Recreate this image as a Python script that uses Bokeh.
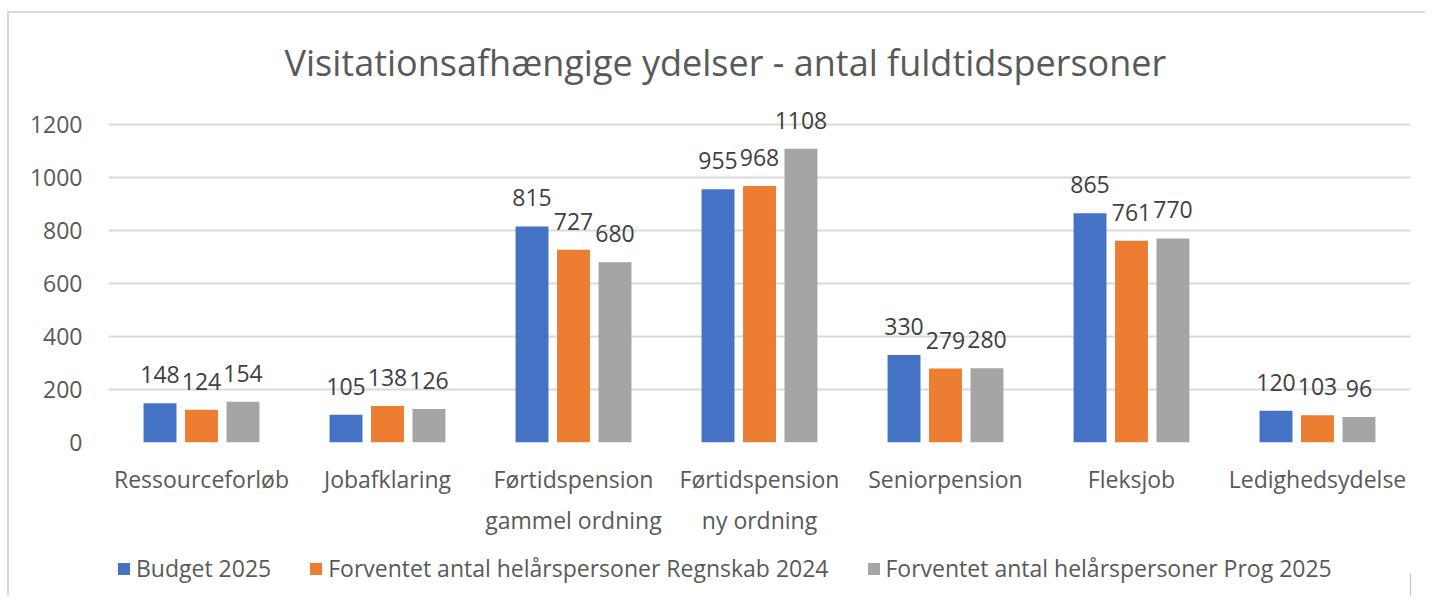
from bokeh.plotting import figure
from bokeh.layouts import column
from bokeh.models import (FactorRange, Range1d, SingleIntervalTicker, Legend, LegendItem,
                          ColumnDataSource, LabelSet)
from bokeh.core.properties import value
from bokeh.transform import dodge
from bokeh.embed import file_html
from bokeh.resources import INLINE

categories = ["Ressourceforløb", "Jobafklaring", "Førtidspension\ngammel ordning",
              "Førtidspension\nny ordning", "Seniorpension", "Fleksjob", "Ledighedsydelse"]
series_names = ["Budget 2025",
                "Forventet antal helårspersoner Regnskab 2024",
                "Forventet antal helårspersoner Prog 2025"]
budget_2025 = [148, 105, 815, 955, 330, 865, 120]
regnskab_2024 = [124, 138, 727, 968, 279, 761, 103]
prog_2025 = [154, 126, 680, 1108, 280, 770, 96]
y_ticks_interval = 200
y_max = 1260
colors = ["#4472C4", "#ED7D31", "#A5A5A5"]

FONT = "Open Sans"
TXT = "#595959"

src = ColumnDataSource(dict(cat=categories, b=budget_2025, r=regnskab_2024, g=prog_2025,
                            bl=[str(v) for v in budget_2025],
                            rl=[str(v) for v in regnskab_2024],
                            gl=[str(v) for v in prog_2025]))

p = figure(x_range=FactorRange(*categories), y_range=Range1d(0, y_max),
           frame_width=1302, frame_height=334, output_backend="svg", toolbar_location=None,
           title="Visitationsafhængige ydelser - antal fuldtidspersoner")
p.min_border_left = 99
p.min_border_right = 15
p.min_border_top = 94
p.min_border_bottom = 108
p.outline_line_color = None

p.title.align = "left"
p.title.offset = 176
p.title.text_font = FONT
p.title.text_font_size = "36px"
p.title.text_font_style = "normal"
p.title.text_color = TXT
p.title.standoff = 44

offsets = [-0.223, 0.0, 0.223]
cols = ["b", "r", "g"]
lcols = ["bl", "rl", "gl"]
for off, c, lc, col in zip(offsets, cols, lcols, colors):
    p.vbar(x=dodge("cat", off, range=p.x_range), top=c, width=0.177, source=src,
           fill_color=col, line_color=None)
    labels = LabelSet(x=dodge("cat", off, range=p.x_range), y=c, text=lc, source=src,
                      text_align="center", text_baseline="alphabetic", y_offset=20,
                      text_font_size="23px", text_color="#404040", text_font=value(FONT))
    p.add_layout(labels)

p.yaxis.ticker = SingleIntervalTicker(interval=y_ticks_interval)
p.ygrid.grid_line_color = "#d9d9d9"
p.ygrid.grid_line_width = 2
p.xgrid.grid_line_color = None
for ax in (p.xaxis[0], p.yaxis[0]):
    ax.axis_line_color = None
    ax.major_tick_line_color = None
    ax.minor_tick_line_color = None
    ax.major_label_text_font = FONT
    ax.major_label_text_font_size = "23px"
    ax.major_label_text_color = TXT
p.yaxis.major_label_standoff = 20
p.xaxis.major_label_standoff = 14
p.xaxis.major_label_text_line_height = 1.3

# legend strip
lg = figure(x_range=Range1d(0, 1), y_range=Range1d(0, 1), width=1416, height=46,
            output_backend="svg", toolbar_location=None,
            x_axis_location=None, y_axis_location=None)
lg.min_border_left = 0
lg.min_border_right = 0
lg.min_border_top = 0
lg.min_border_bottom = 0
lg.outline_line_color = None
lg.grid.visible = False
items = []
for col, name in zip(colors, series_names):
    # swatch renderers placed outside the visible range; only their legend icons show
    rr = lg.vbar(x=[5], top=[0.5], width=0.1, fill_color=col, line_color=None)
    items.append(LegendItem(label=name, renderers=[rr]))
legend = Legend(items=items, orientation="horizontal", location=(8, 12),
                label_text_font=FONT, label_text_font_size="23px", label_text_color=TXT,
                glyph_width=15, glyph_height=15, spacing=37, label_standoff=5,
                border_line_color=None, background_fill_alpha=0, padding=0, margin=0)
lg.add_layout(legend, "center")

layout = column(p, lg, spacing=0)
layout.styles = {"border-top": "2px solid #d9d9d9", "border-left": "2px solid #d9d9d9",
                 "margin-top": "11px", "margin-left": "7px"}

open("out.html", "w").write(file_html(layout, INLINE))
